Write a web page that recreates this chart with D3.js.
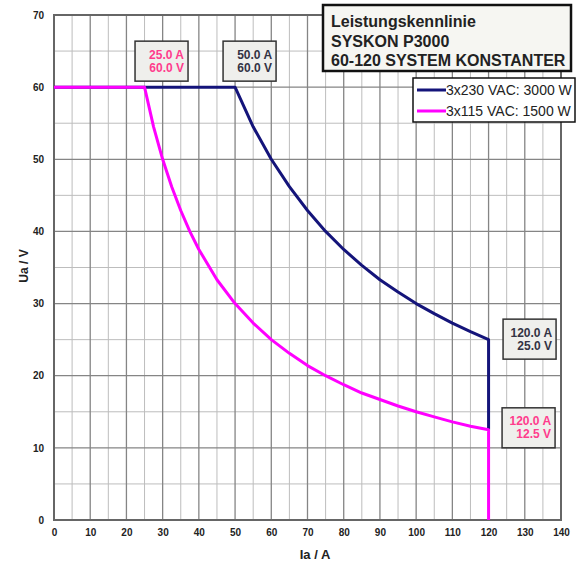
<!DOCTYPE html>
<html><head><meta charset="utf-8">
<script src="https://cdn.jsdelivr.net/npm/d3@7"></script>
<style>body{margin:0;background:#fff}svg{display:block}text{font-family:"Liberation Sans",Arial,sans-serif}</style>
</head><body>
<script>
// ---- data ----
const xTicks = [0,10,20,30,40,50,60,70,80,90,100,110,120,130,140];
const yTicks = [0,10,20,30,40,50,60,70];
// 3x230 VAC: 3000 W  (Ia [A], Ua [V])
const seriesNavyI = [0,50,55,60,65,70,75,80,85,90,95,100,105,110,115,120,120];
const seriesNavyU = [60,60,54.5,50,46.2,42.9,40,37.5,35.3,33.3,31.6,30,28.6,27.3,26.1,25,12.5];
// 3x115 VAC: 1500 W
const seriesMagI = [0,25,27.5,30,32.5,35,37.5,40,45,50,55,60,65,70,75,80,85,90,95,100,105,110,115,120,120];
const seriesMagU = [60,60,54.5,50,46.2,42.9,40,37.5,33.3,30,27.3,25,23.1,21.4,20,18.75,17.6,16.7,15.8,15,14.3,13.6,13.0,12.5,0];
const legendLabels = ["3x230 VAC: 3000 W","3x115 VAC: 1500 W"];
const titleLines = ["Leistungskennlinie","SYSKON P3000","60-120 SYSTEM KONSTANTER"];
const annotations = [
  {i:25, u:60, l1:"25.0 A", l2:"60.0 V", s:1},
  {i:50, u:60, l1:"50.0 A", l2:"60.0 V", s:0},
  {i:120, u:25, l1:"120.0 A", l2:"25.0 V", s:0},
  {i:120, u:12.5, l1:"120.0 A", l2:"12.5 V", s:1}
];

// ---- layout ----
const W=579,H=567;
const colors=["#14147a","#ff00ff"];
const textColors=["#333344","#ff3c8c"];
const svg=d3.select("body").append("svg").attr("width",W).attr("height",H);
const x=d3.scaleLinear().domain([0,140]).range([54,561]);
const y=d3.scaleLinear().domain([0,70]).range([520,15]);

// grid
const g=svg.append("g");
const minorX=d3.range(5,140,10), minorY=d3.range(5,70,10);
g.selectAll(".mx").data(minorX).enter().append("line")
 .attr("x1",d=>x(d)).attr("x2",d=>x(d)).attr("y1",y(0)).attr("y2",y(70))
 .attr("stroke","#bdbdbd").attr("stroke-width",1);
g.selectAll(".my").data(minorY).enter().append("line")
 .attr("y1",d=>y(d)).attr("y2",d=>y(d)).attr("x1",x(0)).attr("x2",x(140))
 .attr("stroke","#bdbdbd").attr("stroke-width",1);
g.selectAll(".Mx").data(xTicks.slice(1,-1)).enter().append("line")
 .attr("x1",d=>x(d)).attr("x2",d=>x(d)).attr("y1",y(0)).attr("y2",y(70))
 .attr("stroke","#858585").attr("stroke-width",1.3);
g.selectAll(".My").data(yTicks.slice(1,-1)).enter().append("line")
 .attr("y1",d=>y(d)).attr("y2",d=>y(d)).attr("x1",x(0)).attr("x2",x(140))
 .attr("stroke","#858585").attr("stroke-width",1.3);
// frame
svg.append("rect").attr("x",x(0)).attr("y",y(70)).attr("width",x(140)-x(0)).attr("height",y(0)-y(70))
 .attr("fill","none").attr("stroke","#666").attr("stroke-width",2);

// axes
const ax=svg.append("g").attr("transform",`translate(0,${y(0)})`)
 .call(d3.axisBottom(x).tickValues(xTicks).tickSize(0).tickPadding(9));
const ay=svg.append("g").attr("transform",`translate(${x(0)},0)`)
 .call(d3.axisLeft(y).tickValues(yTicks).tickSize(0).tickPadding(10));
[ax,ay].forEach(a=>{a.select(".domain").remove();
 a.selectAll("text").attr("font-size","10px").attr("font-weight","bold").attr("fill","#222")
  .style("font-family",'"Liberation Sans",Arial,sans-serif');});

svg.append("text").attr("x",315).attr("y",559).attr("text-anchor","middle")
 .attr("font-size","13px").attr("font-weight","bold").attr("fill","#222").text("Ia / A");
svg.append("text").attr("transform","translate(28,266) rotate(-90)").attr("text-anchor","middle")
 .attr("font-size","12px").attr("font-weight","bold").attr("fill","#222").text("Ua / V");

// lines
const line=d3.line().x(d=>x(d[0])).y(d=>y(d[1]));
const navy=seriesNavyI.map((v,k)=>[v,seriesNavyU[k]]);
const mag=seriesMagI.map((v,k)=>[v,seriesMagU[k]]);
svg.append("path").datum(navy).attr("d",line).attr("fill","none").attr("stroke",colors[0]).attr("stroke-width",3).attr("stroke-linejoin","round");
svg.append("path").datum(mag).attr("d",line).attr("fill","none").attr("stroke",colors[1]).attr("stroke-width",3).attr("stroke-linejoin","round");

// annotations
const offs=[[-9.5,-46],[-12,-46],[14.5,-20.5],[13.5,-22]];
annotations.forEach((a,k)=>{
  const px=x(a.i)+offs[k][0], py=y(a.u)+offs[k][1];
  const bg=svg.append("g").attr("transform",`translate(${px},${py})`);
  bg.append("rect").attr("width",53).attr("height",40).attr("fill","#efefec").attr("stroke","#333").attr("stroke-width",1.5);
  bg.append("text").attr("x",49).attr("y",17.5).attr("text-anchor","end").attr("font-size","12px").attr("font-weight","bold").attr("fill",textColors[a.s]).text(a.l1);
  bg.append("text").attr("x",49).attr("y",30.5).attr("text-anchor","end").attr("font-size","12px").attr("font-weight","bold").attr("fill",textColors[a.s]).text(a.l2);
});

// title box
svg.append("rect").attr("x",323).attr("y",5).attr("width",248).attr("height",66)
 .attr("fill","#f6f6f2").attr("stroke","#111").attr("stroke-width",2.5);
titleLines.forEach((t,k)=>svg.append("text").attr("x",331).attr("y",27+k*19.5)
 .attr("font-size","16px").attr("font-weight","bold").attr("fill","#222").text(t));

// legend
svg.append("rect").attr("x",413).attr("y",78).attr("width",162).attr("height",44)
 .attr("fill","#fff").attr("stroke","#111").attr("stroke-width",1.5);
legendLabels.forEach((t,k)=>{
  svg.append("line").attr("x1",417).attr("x2",446).attr("y1",90+k*21).attr("y2",90+k*21)
   .attr("stroke",colors[k]).attr("stroke-width",3);
  svg.append("text").attr("x",446).attr("y",95+k*21).attr("font-size","14px").attr("fill","#222").text(t);
});
</script>
</body></html>
